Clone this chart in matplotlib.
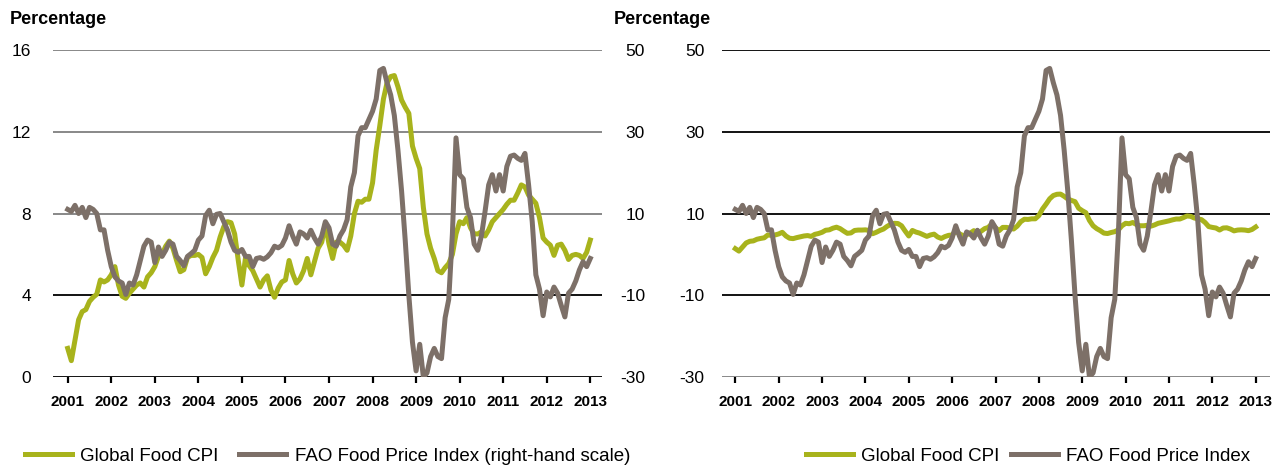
import numpy as np
import matplotlib
matplotlib.use("Agg")
import matplotlib.pyplot as plt

plt.rcParams["font.family"] = ["Liberation Sans", "DejaVu Sans"]
plt.rcParams["axes.unicode_minus"] = False

# ----------------------------------------------------------------------
# Data: monthly, Jan 2001 - Jan 2013 (percentage change)
# ----------------------------------------------------------------------
years = list(range(2001, 2014))

global_food_cpi = [
    1.4, 0.8, 1.8, 2.8, 3.2, 3.3, 3.7, 3.9, 4.05, 4.75, 4.65, 4.75,      # 2001
    5.0, 5.4, 4.5, 3.95, 3.85, 4.1, 4.3, 4.5, 4.6, 4.4, 4.9, 5.1,        # 2002
    5.4, 5.9, 6.0, 6.4, 6.65, 6.3, 5.7, 5.15, 5.25, 5.85, 5.95, 5.95,    # 2003
    6.0, 5.85, 5.05, 5.4, 5.85, 6.2, 6.85, 7.35, 7.6, 7.55, 7.0, 5.7,    # 2004
    4.5, 5.85, 5.45, 5.2, 4.8, 4.4, 4.75, 4.95, 4.25, 3.9, 4.35, 4.65,   # 2005
    4.75, 5.7, 5.05, 4.6, 4.8, 5.2, 5.8, 5.0, 5.65, 6.3, 6.6, 7.5,       # 2006
    6.5, 5.8, 6.6, 6.6, 6.45, 6.2, 6.9, 8.0, 8.6, 8.55, 8.7, 8.7,        # 2007
    9.5, 11.1, 12.3, 13.6, 14.4, 14.7, 14.75, 14.2, 13.55, 13.2, 12.9, 11.3,  # 2008
    10.7, 10.2, 8.3, 7.0, 6.3, 5.8, 5.2, 5.1, 5.35, 5.55, 6.0, 7.0,      # 2009
    7.6, 7.5, 7.8, 7.3, 7.0, 7.0, 7.1, 6.9, 7.2, 7.6, 7.8, 8.0,          # 2010
    8.2, 8.45, 8.65, 8.65, 9.0, 9.4, 9.3, 8.9, 8.7, 8.5, 7.8, 6.8,       # 2011
    6.6, 6.45, 5.95, 6.45, 6.5, 6.2, 5.75, 5.95, 6.0, 5.95, 5.8, 6.1,    # 2012
    6.7,                                                                 # 2013
]

fao_food_price_index = [
    11.0, 10.5, 12.0, 10.0, 11.5, 9.0, 11.5, 11.0, 10.0, 6.0, 6.0, 1.0,          # 2001
    -3.0, -5.5, -6.5, -7.0, -9.8, -7.0, -7.5, -5.0, -1.5, 2.0, 3.5, 3.0,         # 2002
    -2.0, 1.8, -0.5, 1.0, 3.0, 2.5, -0.5, -1.5, -2.8, -0.5, 0.2, 1.0,            # 2003
    3.5, 4.5, 9.5, 10.8, 7.5, 9.8, 10.0, 8.0, 6.0, 3.0, 1.0, 0.5,                # 2004
    1.2, -0.5, -0.5, -3.0, -1.0, -0.8, -1.2, -0.6, 0.4, 2.0, 1.6, 2.2,           # 2005
    4.0, 7.0, 4.5, 2.5, 5.5, 5.0, 4.0, 5.9, 4.0, 2.5, 4.5, 8.0,                  # 2006
    6.5, 2.5, 2.0, 4.5, 6.0, 8.5, 16.5, 20.0, 29.0, 31.0, 31.0, 33.0,            # 2007
    35.0, 38.0, 45.0, 45.5, 42.0, 39.0, 34.0, 25.5, 15.5, 3.5, -10.0, -21.5,     # 2008
    -28.5, -22.0, -30.0, -29.0, -25.0, -23.0, -25.0, -25.5, -15.5, -11.0, 5.0, 28.5,  # 2009
    19.5, 18.5, 11.5, 9.0, 2.5, 1.0, 4.5, 10.5, 17.0, 19.5, 15.5, 19.5,          # 2010
    15.5, 21.5, 24.0, 24.3, 23.5, 23.0, 24.7, 17.0, 8.0, -5.0, -8.5, -15.0,      # 2011
    -9.2, -10.4, -8.0, -9.5, -12.5, -15.3, -9.5, -8.5, -6.5, -3.8, -1.8, -3.0,   # 2012
    -1.0,                                                                        # 2013
]

cpi_label = "Global Food CPI"
fao_label_left = "FAO Food Price Index (right-hand scale)"
fao_label_right = "FAO Food Price Index"

left_ticks = [0, 4, 8, 12, 16]
right_ticks = [-30, -10, 10, 30, 50]

GREEN = "#a8b31c"
BROWN = "#7d7068"
W, H = 1277, 466
LW = 3.6

t = 2001 + np.arange(len(global_food_cpi)) / 12.0


def style_xaxis(ax):
    ax.set_xticks(years)
    ax.set_xticklabels([str(y) for y in years], fontsize=11, fontweight="bold")
    ax.tick_params(axis="x", direction="out", length=4, width=1.6,
                   color="black", pad=9)
    for s in ax.spines.values():
        s.set_visible(False)


fig = plt.figure(figsize=(W / 100, H / 100), dpi=100)

# ---------------- left panel: dual axis ----------------
ax = fig.add_axes([53 / W, 1 - 377 / H, 549 / W, 327 / H])
ax.set_xlim(2000.662, 2013.269)
ax.set_ylim(0, 16)
for v, c in zip(left_ticks, ["black", "black", "#7f7f7f", "#7f7f7f", "#7f7f7f"]):
    ax.axhline(v, color=c, lw=1.3, zorder=1)
ax.set_yticks(left_ticks)
ax.tick_params(axis="y", length=0, pad=16, labelsize=12.5)
style_xaxis(ax)
l1, = ax.plot(t, global_food_cpi, color=GREEN, lw=LW, zorder=3,
              solid_joinstyle="round", label=cpi_label)

ax2 = ax.twinx()
ax2.set_ylim(-30, 50)
ax2.set_yticks(right_ticks)
ax2.tick_params(axis="y", length=0, pad=31, labelsize=12.5)
for lbl in ax2.get_yticklabels():
    lbl.set_horizontalalignment("right")
for s in ax2.spines.values():
    s.set_visible(False)
l2, = ax2.plot(t, fao_food_price_index, color=BROWN, lw=LW, zorder=3,
               solid_joinstyle="round", label=fao_label_left)

fig.text(10 / W, 1 - 20 / H, "Percentage", fontsize=13, fontweight="bold",
         va="center", ha="left")
fig.text(614 / W, 1 - 20 / H, "Percentage", fontsize=13, fontweight="bold",
         va="center", ha="left")

fig.legend([l1, l2], [cpi_label, fao_label_left], loc="center left",
           bbox_to_anchor=(25 / W, 1 - 456 / H), ncol=2, frameon=False,
           fontsize=13.5, handlelength=2.5, handletextpad=0.45,
           columnspacing=1.1, borderaxespad=0, borderpad=0)

# ---------------- right panel: single axis ----------------
bx = fig.add_axes([722 / W, 1 - 377 / H, 548 / W, 327 / H])
bx.set_xlim(2000.693, 2013.33)
bx.set_ylim(-30, 50)
for v, c in zip(right_ticks, ["#7f7f7f", "black", "black", "black", "black"]):
    bx.axhline(v, color=c, lw=1.3, zorder=1)
bx.set_yticks(right_ticks)
bx.tick_params(axis="y", length=0, pad=12.5, labelsize=12.5)
style_xaxis(bx)
m1, = bx.plot(t, global_food_cpi, color=GREEN, lw=LW, zorder=3,
              solid_joinstyle="round")
m2, = bx.plot(t, fao_food_price_index, color=BROWN, lw=LW, zorder=4,
              solid_joinstyle="round")

fig.legend([m1, m2], [cpi_label, fao_label_right], loc="center left",
           bbox_to_anchor=(806 / W, 1 - 456 / H), ncol=2, frameon=False,
           fontsize=13.5, handlelength=2.5, handletextpad=0.45,
           columnspacing=0.6, borderaxespad=0, borderpad=0)

fig.savefig("out.png", dpi=100)
